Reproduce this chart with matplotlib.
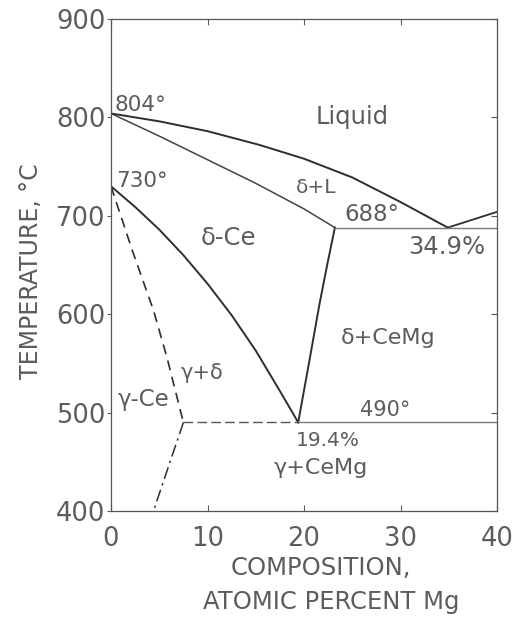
import matplotlib
matplotlib.use("Agg")
import matplotlib.pyplot as plt

# ---- data ----
liquidus_x = [0, 5, 10, 15.4, 20, 25, 30, 34.9]
liquidus_T = [804, 796, 786, 772, 758, 739, 714, 688]
liquidus_mg_x = [34.9, 40]
liquidus_mg_T = [688, 704]
solidus_x = [0, 5, 10, 15, 20, 23.2]
solidus_T = [804, 781, 757, 733, 707, 688]
delta_solvus_x = [0, 2.5, 5, 7.5, 10, 12.5, 15, 17.5, 19.4]
delta_solvus_T = [730, 709, 686, 660, 631, 599, 563, 522, 490]
cemg_solvus_x = [23.2, 22.4, 21.6, 20.6, 19.4]
cemg_solvus_T = [688, 650, 610, 555, 490]
gamma_delta_x = [0, 2.2, 4.4, 5.8, 7.5]
gamma_delta_T = [730, 665, 604, 556, 490]
gamma_low_x = [7.5, 4.4]
gamma_low_T = [490, 400]
eut_x = [23.2, 40]
eut_T = [688, 688]
eutd_dash_x = [7.5, 19.4]
eutd_solid_x = [19.4, 40]
eutd_T = 490

xticks = [0, 10, 20, 30, 40]
yticks = [400, 500, 600, 700, 800, 900]

labels = [
    ("804°", 0.4, 813, 15.5, "left"),
    ("730°", 0.5, 735, 15.5, "left"),
    ("Liquid", 25.0, 800, 17.5, "center"),
    ("δ+L", 21.3, 729, 14.5, "center"),
    ("688°", 27.0, 701, 16.5, "center"),
    ("34.9%", 34.8, 668, 17.5, "center"),
    ("δ-Ce", 12.2, 677, 17.5, "center"),
    ("δ+CeMg", 28.7, 576, 16, "center"),
    ("490°", 28.4, 503, 15, "center"),
    ("19.4%", 22.5, 472, 14.5, "center"),
    ("γ+CeMg", 21.7, 444, 16, "center"),
    ("γ+δ", 9.4, 540, 15, "center"),
    ("γ-Ce", 3.4, 513, 16.5, "center"),
]

W, H = 520, 617
fig = plt.figure(figsize=(W / 100, H / 100), dpi=100)
left, right, top, bottom = 111, 497, 19, 511
ax = fig.add_axes([left / W, 1 - bottom / H, (right - left) / W, (bottom - top) / H])
ax.set_xlim(0, 40)
ax.set_ylim(400, 900)

txt = "#5c5c5c"
ln = "#2e2e2e"
for s in ax.spines.values():
    s.set_color("#555555")
    s.set_linewidth(0.9)

ax.plot(liquidus_x, liquidus_T, color=ln, lw=1.4)
ax.plot(liquidus_mg_x, liquidus_mg_T, color=ln, lw=1.3)
ax.plot(solidus_x, solidus_T, color="#444444", lw=1.1)
ax.plot(delta_solvus_x, delta_solvus_T, color=ln, lw=1.4)
ax.plot(cemg_solvus_x, cemg_solvus_T, color=ln, lw=1.4)
ax.plot(gamma_delta_x, gamma_delta_T, color=ln, lw=1.2, ls=(0, (6, 4)))
ax.plot(gamma_low_x, gamma_low_T, color=ln, lw=1.1, ls=(0, (8, 3, 1.5, 3)))
ax.plot(eut_x, eut_T, color="#777777", lw=1.0)
ax.plot(eutd_dash_x, [eutd_T, eutd_T], color="#555555", lw=1.0, ls=(0, (7, 3)))
ax.plot(eutd_solid_x, [eutd_T, eutd_T], color="#777777", lw=1.0)

for t, x, y, fs, ha in labels:
    ax.text(x, y, t, fontsize=fs, color=txt, ha=ha, va="center")

ax.set_xticks(xticks)
ax.set_yticks(yticks)
ax.set_xticklabels([str(v) for v in xticks])
ax.set_yticklabels([str(v) for v in yticks])
ax.tick_params(axis="x", direction="in", length=4, pad=11, labelsize=18.5,
               colors=txt, top=True, width=0.8)
ax.tick_params(axis="y", direction="out", length=3, pad=1, labelsize=18.5,
               colors=txt, width=0.8)

sec = ax.secondary_yaxis("right")
sec.set_yticks(yticks)
sec.tick_params(direction="in", length=4, width=0.8, colors="#555555",
                labelright=False)
sec.spines["right"].set_visible(False)

fig.text(31 / W, 1 - 271 / H, "TEMPERATURE, °C", rotation=90, fontsize=17,
         color=txt, ha="center", va="center")
fig.text(321 / W, 1 - 568 / H, "COMPOSITION,", fontsize=17.5, color=txt,
         ha="center", va="center")
fig.text(331 / W, 1 - 602 / H, "ATOMIC PERCENT Mg", fontsize=17.5, color=txt,
         ha="center", va="center")

fig.savefig("out.png", dpi=100, facecolor="white")
